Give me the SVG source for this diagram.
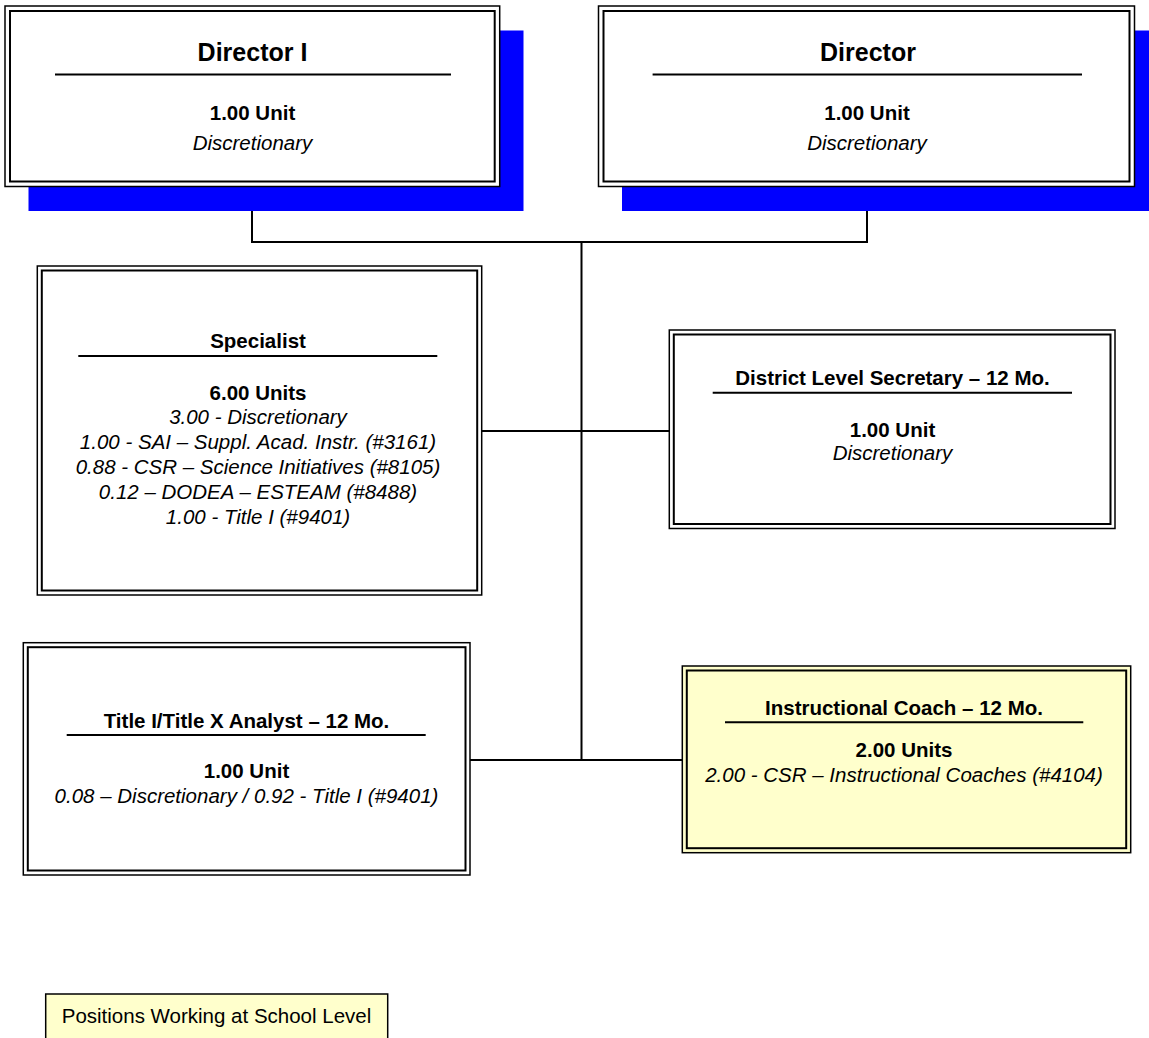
<svg xmlns="http://www.w3.org/2000/svg" width="1149" height="1038" viewBox="0 0 1149 1038">
<style>
text{font-family:"Liberation Sans",Arial,sans-serif;fill:#000;text-anchor:middle}
.t{font-weight:bold;font-size:20.5px}
.tl{font-weight:bold;font-size:25px}
.b{font-weight:bold;font-size:20.5px}
.i{font-style:italic;font-size:20.5px}
.r{font-size:20.5px}
.o{fill:#fff;stroke:#000;stroke-width:1.5}
.y{fill:#FFFFCC}
.in{fill:none;stroke:#000;stroke-width:2}
.u{stroke:#000;stroke-width:2}
.sh{fill:#0000FF}
.c{fill:none;stroke:#000;stroke-width:2}
</style>
<g id="connectors">
<path class="c" d="M252,187 V242 H867 V187"/>
<path class="c" d="M581.5,242 V760"/>
<path class="c" d="M481.7,431 H669.3"/>
<path class="c" d="M470,760 H682.3"/>
</g>
<g id="director-i">
<rect class="sh" x="28.5" y="30.5" width="495" height="180.5"/>
<rect class="o" x="5" y="6" width="494.7" height="180.5"/>
<rect class="in" x="10" y="11" width="484.7" height="170.5"/>
<text class="tl" x="252.5" y="61">Director I</text>
<line class="u" x1="55" y1="74.4" x2="451" y2="74.4"/>
<text class="b" x="252.5" y="120">1.00 Unit</text>
<text class="i" x="252.5" y="150">Discretionary</text>
</g>
<g id="director">
<rect class="sh" x="622" y="30.5" width="536" height="180.5"/>
<rect class="o" x="598.5" y="6" width="536" height="180.5"/>
<rect class="in" x="603.5" y="11" width="526" height="170.5"/>
<text class="tl" x="868" y="61">Director</text>
<line class="u" x1="652.6" y1="74.4" x2="1082" y2="74.4"/>
<text class="b" x="867" y="120">1.00 Unit</text>
<text class="i" x="867" y="150">Discretionary</text>
</g>
<g id="specialist">
<rect class="o" x="37.3" y="266" width="444.4" height="329"/>
<rect class="in" x="41.8" y="270.5" width="435.4" height="320"/>
<text class="t" x="258" y="348.3">Specialist</text>
<line class="u" x1="78.3" y1="356" x2="437.3" y2="356"/>
<text class="b" x="258" y="399.5">6.00 Units</text>
<text class="i" x="258" y="424.3">3.00 - Discretionary</text>
<text class="i" x="258" y="449.1">1.00 - SAI – Suppl. Acad. Instr. (#3161)</text>
<text class="i" x="258" y="473.9">0.88 - CSR – Science Initiatives (#8105)</text>
<text class="i" x="258" y="498.7">0.12 – DODEA – ESTEAM (#8488)</text>
<text class="i" x="258" y="523.5">1.00 - Title I (#9401)</text>
</g>
<g id="district-secretary">
<rect class="o" x="669.3" y="330" width="445.7" height="198.5"/>
<rect class="in" x="673.8" y="334.5" width="436.7" height="189.5"/>
<text class="t" x="892.5" y="385">District Level Secretary – 12 Mo.</text>
<line class="u" x1="712.7" y1="392.7" x2="1072" y2="392.7"/>
<text class="b" x="892.5" y="436.7">1.00 Unit</text>
<text class="i" x="892.5" y="460">Discretionary</text>
</g>
<g id="title-analyst">
<rect class="o" x="23.3" y="642.7" width="446.7" height="232.3"/>
<rect class="in" x="27.8" y="647.2" width="437.7" height="223.3"/>
<text class="t" x="246.5" y="727.7">Title I/Title X Analyst – 12 Mo.</text>
<line class="u" x1="66.7" y1="735" x2="425.7" y2="735"/>
<text class="b" x="246.5" y="778.3">1.00 Unit</text>
<text class="i" x="246.5" y="803.3">0.08 – Discretionary / 0.92 - Title I (#9401)</text>
</g>
<g id="instructional-coach">
<rect class="o y" x="682.3" y="666" width="448.4" height="186.7"/>
<rect class="in" x="686.8" y="670.5" width="439.4" height="177.7"/>
<text class="t" x="904" y="715">Instructional Coach – 12 Mo.</text>
<line class="u" x1="725" y1="722.3" x2="1083.3" y2="722.3"/>
<text class="b" x="904" y="756.7">2.00 Units</text>
<text class="i" x="904" y="781.7">2.00 - CSR – Instructional Coaches (#4104)</text>
</g>
<g id="legend">
<rect class="o y" x="45.7" y="994" width="342" height="46"/>
<text class="r" x="216.5" y="1023.3">Positions Working at School Level</text>
</g>
</svg>
